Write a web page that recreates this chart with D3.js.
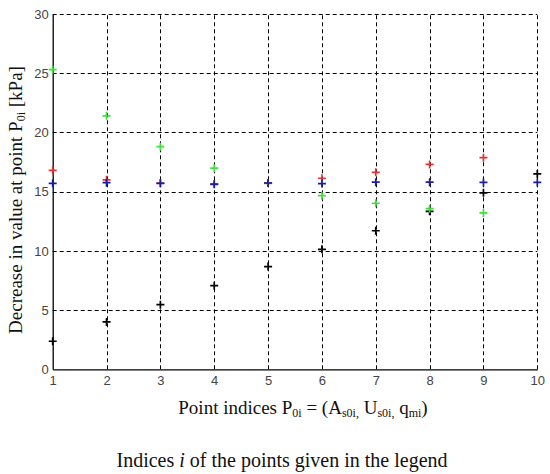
<!DOCTYPE html>
<html><head><meta charset="utf-8">
<script src="https://cdn.jsdelivr.net/npm/d3@7"></script>
<style>html,body{margin:0;padding:0;background:#fff;}svg{display:block;}</style>
</head><body>
<script>
const pointIndex = [1,2,3,4,5,6,7,8,9,10];
const blackValues = [2.37, 4.0, 5.46, 7.06, 8.67, 10.13, 11.7, 13.34, 14.9, 16.5];
const greenValues = [25.3, 21.4, 18.8, 16.98, 15.7, 14.66, 14.02, 13.56, 13.2, null];
const redValues   = [16.8, 16.0, 15.72, 15.65, 15.72, 16.13, 16.63, 17.3, 17.87, null];
const blueValues  = [15.7, 15.76, 15.7, 15.62, 15.73, 15.68, 15.8, 15.8, 15.78, 15.78];
const yTicks = [0,5,10,15,20,25,30];
const xTicks = [1,2,3,4,5,6,7,8,9,10];
const seriesNames = ["black","green","red","blue"];
const seriesColors = ["#000000","#3ee03e","#e03434","#1c1ca0"];

const W = 550, H = 474;
const svg = d3.select("body").append("svg").attr("width", W).attr("height", H);
const x = d3.scaleLinear().domain([1,10]).range([52.7, 537.3]);
const y = d3.scaleLinear().domain([0,30]).range([369.3, 14]);

// grid
const grid = svg.append("g").attr("stroke","#000").attr("stroke-width",1).attr("stroke-dasharray","4,3").attr("fill","none");
yTicks.filter(v => v > 0).forEach(v => {
  grid.append("line").attr("x1", x(1)).attr("x2", x(10)).attr("y1", Math.round(y(v))+0.5).attr("y2", Math.round(y(v))+0.5);
});
xTicks.filter(v => v > 1).forEach(v => {
  grid.append("line").attr("y1", y(0)).attr("y2", y(30)).attr("x1", Math.round(x(v))+0.5).attr("x2", Math.round(x(v))+0.5);
});

// axes
const yAxis = d3.axisLeft(y).tickValues(yTicks).tickSize(0).tickPadding(4);
const xAxis = d3.axisBottom(x).tickValues(xTicks).tickSize(0).tickPadding(6);
const ga = svg.append("g").attr("transform", `translate(${x(1)},0)`).call(yAxis);
const gb = svg.append("g").attr("transform", `translate(0,${y(0)})`).call(xAxis);
[ga, gb].forEach(g => {
  g.select(".domain").attr("stroke","#000").attr("stroke-width",1.3);
  g.selectAll("text").attr("font-family","'Liberation Sans', Arial, sans-serif").attr("font-size",13).attr("fill","#444");
});

// markers
const allSeries = [blackValues, greenValues, redValues, blueValues];
allSeries.forEach((vals, si) => {
  const pts = pointIndex.map((p,i) => ({p, v: vals[i]})).filter(d => d.v !== null);
  const g = svg.append("g").attr("stroke", seriesColors[si]).attr("stroke-width", 1.7);
  const s = 4;
  g.selectAll("path").data(pts).enter().append("path")
    .attr("d", d => `M${x(d.p)-s},${y(d.v)}H${x(d.p)+s}M${x(d.p)},${y(d.v)-s}V${y(d.v)+s}`);
});

// labels
const serif = "'Liberation Serif', 'Times New Roman', serif";
const yl = svg.append("text").attr("transform","translate(22,200) rotate(-90)").attr("text-anchor","middle")
  .attr("font-family", serif).attr("font-size",19).attr("fill","#111");
yl.append("tspan").text("Decrease in value at point P");
yl.append("tspan").attr("font-size",12).attr("baseline-shift","-3").text("0i");
yl.append("tspan").text(" [kPa]");

const xl = svg.append("text").attr("x",303).attr("y",414).attr("text-anchor","middle")
  .attr("font-family", serif).attr("font-size",19).attr("fill","#111");
const parts = [["Point indices P",false],["0i",true],[" = (A",false],["s0i,",true],[" U",false],["s0i,",true],[" q",false],["mi",true],[")",false]];
parts.forEach(([t,sub]) => {
  const ts = xl.append("tspan").text(t);
  if (sub) ts.attr("font-size", 12).attr("baseline-shift", "-3");
});

const cap = svg.append("text").attr("x",282).attr("y",467).attr("text-anchor","middle")
  .attr("font-family", serif).attr("font-size",20).attr("fill","#111");
cap.append("tspan").text("Indices ");
cap.append("tspan").attr("font-style","italic").text("i");
cap.append("tspan").text(" of the points given in the legend");
</script>
</body></html>
